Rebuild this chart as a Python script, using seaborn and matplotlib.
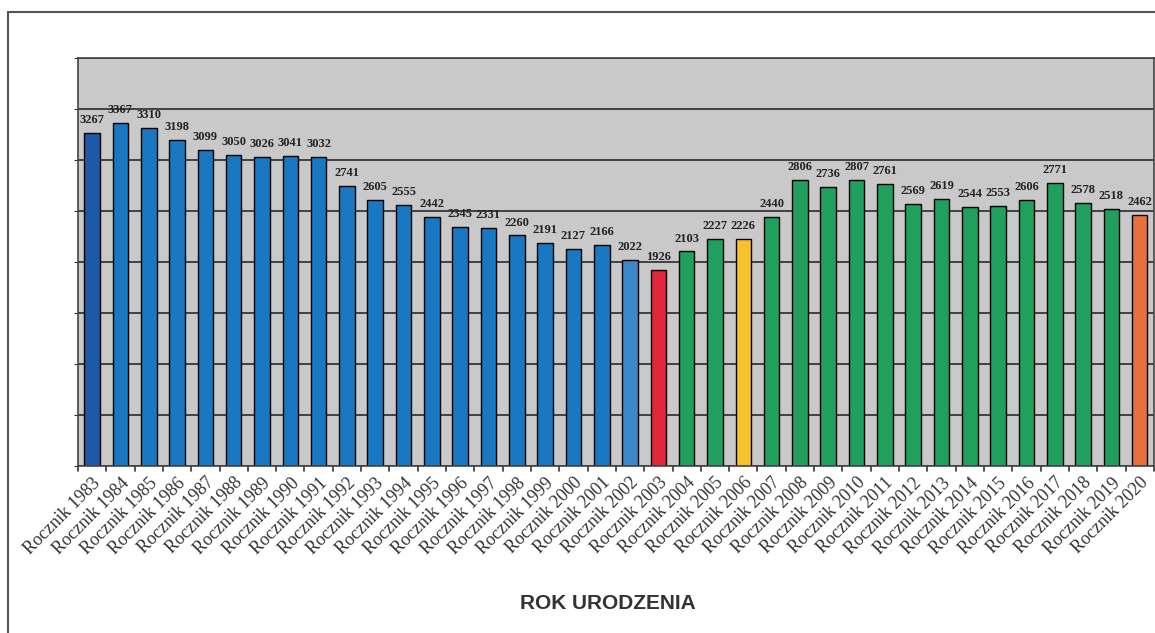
import matplotlib
matplotlib.use('Agg')
import matplotlib.pyplot as plt
import seaborn as sns
from matplotlib.lines import Line2D

# Dane: liczebność roczników
lata = list(range(1983, 2021))
etykiety = ['Rocznik %d' % r for r in lata]
wartosci = [3267, 3367, 3310, 3198, 3099, 3050, 3026, 3041, 3032, 2741,
            2605, 2555, 2442, 2345, 2331, 2260, 2191, 2127, 2166, 2022,
            1926, 2103, 2227, 2226, 2440, 2806, 2736, 2807, 2761, 2569,
            2619, 2544, 2553, 2606, 2771, 2578, 2518, 2462]

# Kolory słupków
niebieski = '#1a78c2'
zielony = '#20a05c'
kolory = (['#1c5aa8'] + [niebieski] * 18 + ['#3c86ca', '#e2263a']
          + [zielony] * 2 + ['#f8c22c'] + [zielony] * 13 + ['#e8703c'])

sns.set_style('white')
fig = plt.figure(figsize=(11.55, 6.33), dpi=100)
ax = fig.add_axes([0.0675, 0.2638, 0.9315, 0.6446])
ax.set_facecolor('#c9c9c9')

sns.barplot(x=etykiety, y=wartosci, hue=etykiety, palette=kolory, legend=False,
            width=0.55, edgecolor='black', linewidth=1, saturation=1, ax=ax)

ax.set_ylim(0, 4000)
ax.set_xlim(-0.5, len(lata) - 0.5)
ax.set_yticks(range(0, 4001, 500))
ax.set_yticklabels([])
ax.set_axisbelow(True)
ax.grid(axis='y', color='#2a2a2a', linewidth=1.2)
ax.grid(axis='x', visible=False)

# Podpisy wartości nad słupkami
for i, v in enumerate(wartosci):
    ax.annotate(str(v), (i, v), xytext=(0, 5), textcoords='offset points',
                ha='center', va='bottom', fontsize=9, fontweight='bold',
                family='Liberation Serif', color='#222222')

# Etykiety osi X
ax.set_xticks([i for i in range(len(lata))])
ax.set_xticklabels(etykiety, rotation=45, ha='right', rotation_mode='anchor',
                   fontsize=13, family='Liberation Serif', color='#333333')
ax.tick_params(axis='x', length=0, pad=6)
# kreski między słupkami
for i in range(len(lata) + 1):
    ax.plot([i - 0.5, i - 0.5], [0, -0.012], transform=ax.get_xaxis_transform(),
            color='#333333', linewidth=1.2, clip_on=False)
ax.tick_params(axis='y', length=3, color='#333333', left=True)

for s in ax.spines.values():
    s.set_color('#444444')
    s.set_linewidth(1.2)

ax.set_xlabel('')
ax.set_ylabel('')

fig.text(0.526, 0.047, 'ROK URODZENIA', ha='center', va='center', fontsize=15,
         fontweight='bold', family='Liberation Sans', color='#333333')

# ramka wykresu
fig.add_artist(Line2D([0.007, 0.007], [0, 0.981], color='#555555', linewidth=1.5))
fig.add_artist(Line2D([0.007, 1], [0.981, 0.981], color='#555555', linewidth=1.5))

fig.savefig('out.png', dpi=100)
